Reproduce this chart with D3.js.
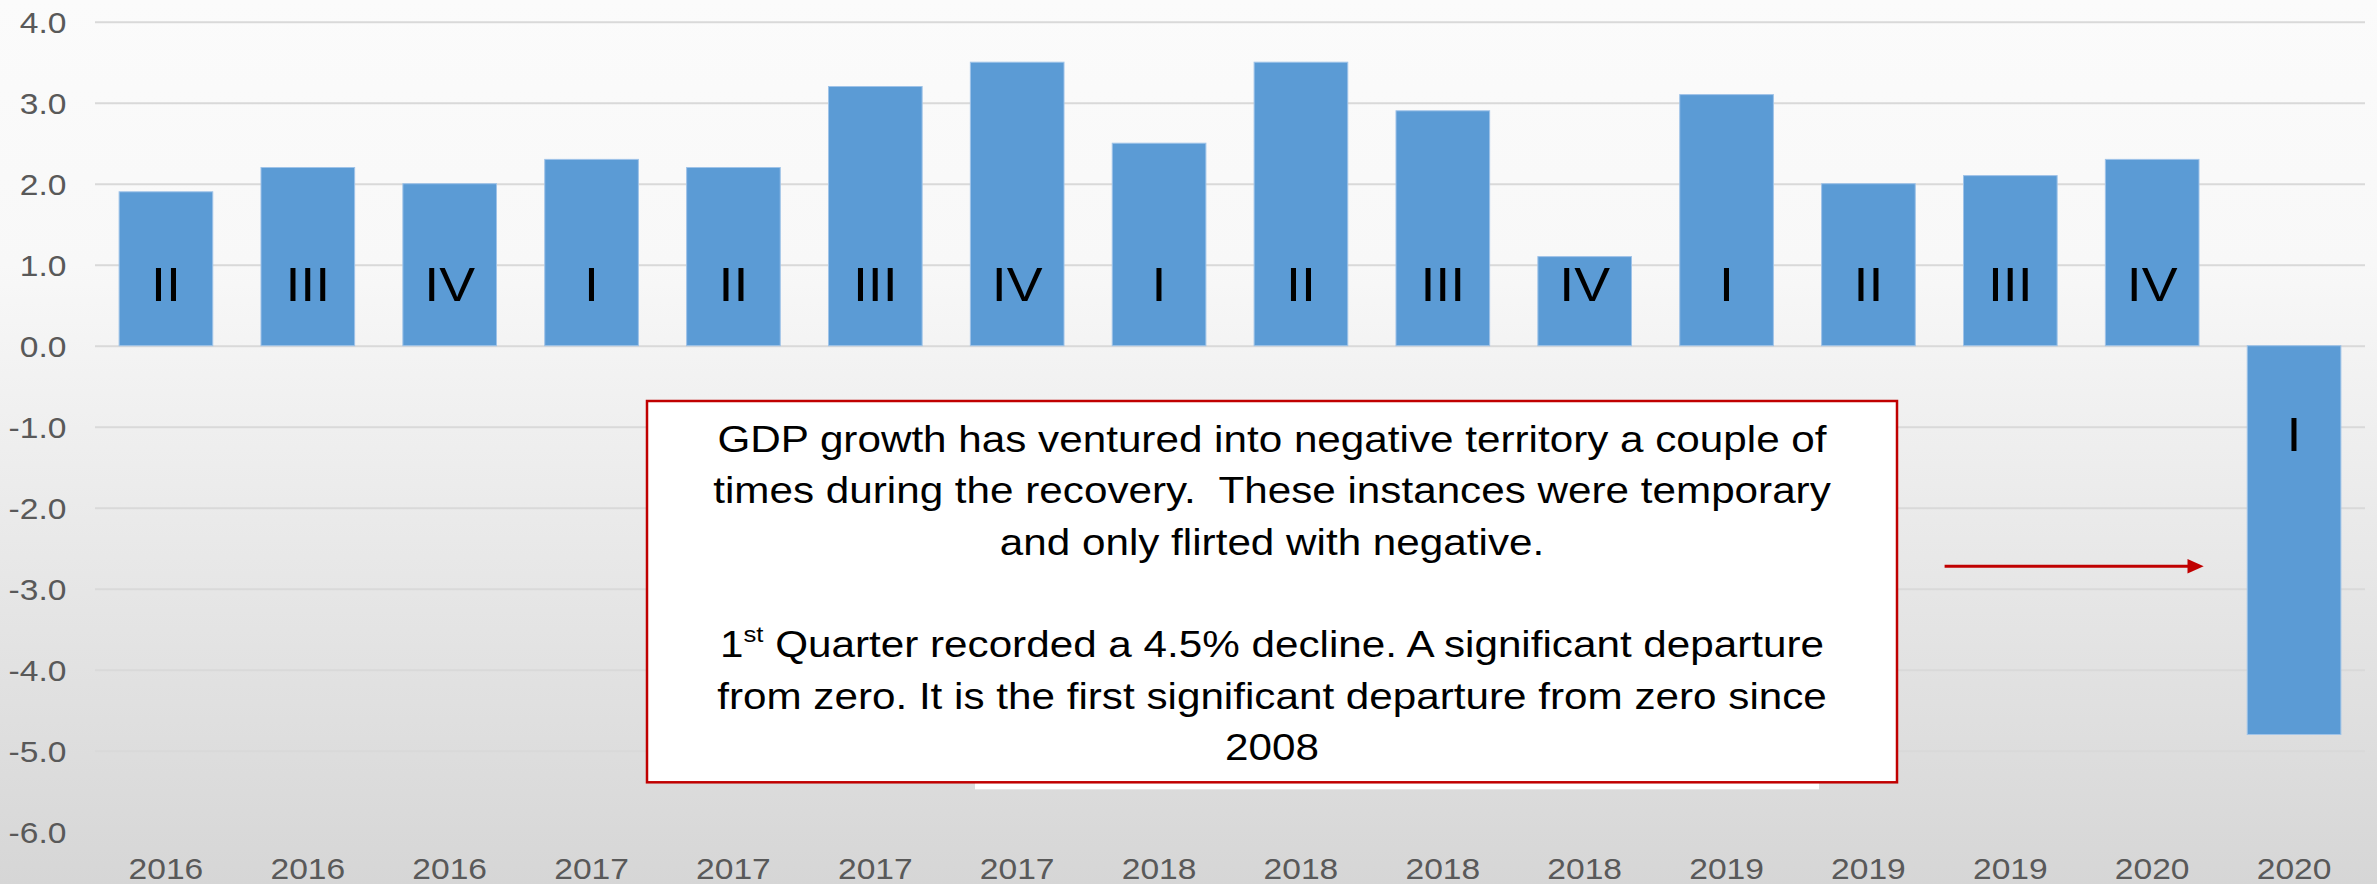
<!DOCTYPE html>
<html>
<head>
<meta charset="utf-8">
<script src="https://cdn.jsdelivr.net/npm/d3@7"></script>
<style>
  html, body { margin: 0; padding: 0; background: #f0f0f0; }
  svg { display: block; }
  text { font-family: "Liberation Sans", Arial, sans-serif; white-space: pre; }
</style>
</head>
<body>
<svg id="chart" width="2377" height="884"></svg>
<script>
// ---- data ----
const years    = ["2016","2016","2016","2017","2017","2017","2017","2018","2018","2018","2018","2019","2019","2019","2020","2020"];
const quarters = ["II","III","IV","I","II","III","IV","I","II","III","IV","I","II","III","IV","I"];
const growth   = [1.9, 2.2, 2.0, 2.3, 2.2, 3.2, 3.5, 2.5, 3.5, 2.9, 1.1, 3.1, 2.0, 2.1, 2.3, -4.8];
const yTicks   = [4, 3, 2, 1, 0, -1, -2, -3, -4, -5, -6];
const gridTicks = [4, 3, 2, 1, 0, -1, -2, -3, -4, -5];
const noteLines1 = [
  "GDP growth has ventured into negative territory a couple of",
  "times during the recovery.  These instances were temporary",
  "and only flirted with negative."
];
const noteLines2 = [
  ["1", "st", " Quarter recorded a 4.5% decline. A significant departure"],
  ["from zero. It is the first significant departure from zero since"],
  ["2008"]
];

// ---- layout ----
const W = 2377, H = 884;
const SX = 1.12; // horizontal stretch of the reference glyphs
const plot = {left: 95, right: 2365, top: 21.7, bottom: 831.7};

const svg = d3.select("#chart");
const defs = svg.append("defs");
const grad = defs.append("linearGradient").attr("id", "bg")
  .attr("x1", 0).attr("y1", 0).attr("x2", 0).attr("y2", 1);
grad.append("stop").attr("offset", "0").attr("stop-color", "#fbfbfb");
grad.append("stop").attr("offset", "0.3").attr("stop-color", "#f8f8f8");
grad.append("stop").attr("offset", "1").attr("stop-color", "#d6d6d6");
svg.append("rect").attr("width", W).attr("height", H).attr("fill", "url(#bg)");

const idx = d3.range(growth.length);
const x = d3.scaleBand().domain(idx).range([plot.left, plot.right])
  .paddingInner(0.34).paddingOuter(0.17);
const y = d3.scaleLinear().domain([-6, 4]).range([plot.bottom, plot.top]);

// gridlines
const grid = svg.append("g").attr("transform", `translate(${plot.left},0)`)
  .call(d3.axisLeft(y).tickValues(gridTicks).tickSize(-(plot.right - plot.left)).tickFormat(""));
grid.select(".domain").remove();
grid.selectAll("line").attr("stroke", "#d9d9d9").attr("stroke-width", 2);

// y axis labels
const yAxis = svg.append("g").attr("transform", `translate(${plot.left},0)`)
  .call(d3.axisLeft(y).tickValues(yTicks).tickSize(0).tickFormat(d => d.toFixed(1)));
yAxis.select(".domain").remove();
yAxis.selectAll("text")
  .attr("x", -28.5 / SX).attr("dy", "0.357em")
  .attr("transform", `scale(${SX},1)`)
  .attr("fill", "#595959").style("font-size", "30px")
  .style("font-family", '"Liberation Sans", Arial, sans-serif');

// x axis labels
const xAxis = svg.append("g").attr("transform", `translate(0,879)`)
  .call(d3.axisBottom(x).tickSize(0).tickFormat(i => years[i]));
xAxis.select(".domain").remove();
xAxis.selectAll("text")
  .attr("y", 0).attr("dy", 0)
  .attr("transform", `scale(${SX},1)`)
  .attr("x", 0)
  .attr("fill", "#595959").style("font-size", "30px")
  .style("font-family", '"Liberation Sans", Arial, sans-serif');

// bars
svg.append("g").selectAll("rect").data(idx).join("rect")
  .attr("x", i => x(i))
  .attr("width", x.bandwidth())
  .attr("y", i => y(Math.max(0, growth[i])))
  .attr("height", i => Math.abs(y(growth[i]) - y(0)))
  .attr("fill", "#5b9bd5")
  .attr("stroke", "#9fc3e8").attr("stroke-width", 1);

// quarter labels
svg.append("g").selectAll("text").data(idx).join("text")
  .attr("transform", i => `translate(${x(i) + x.bandwidth() / 2},${growth[i] >= 0 ? y(0.55) : y(-1.3)}) scale(${SX},1)`)
  .attr("text-anchor", "middle")
  .style("font-size", "48px")
  .attr("fill", "#000")
  .text(i => quarters[i]);

// annotation: white shape behind the note box
svg.append("rect").attr("x", 975).attr("y", 401).attr("width", 844).attr("height", 388.3).attr("fill", "#ffffff");
// note box
svg.append("rect").attr("x", 647).attr("y", 401).attr("width", 1250).attr("height", 381.3)
  .attr("fill", "#ffffff").attr("stroke", "#c00000").attr("stroke-width", 2.5);

const noteCx = 1272, base0 = 452, lh = 51.3;
noteLines1.forEach((t, k) => {
  svg.append("text")
    .attr("transform", `translate(${noteCx},${base0 + k * lh}) scale(${SX},1)`)
    .attr("text-anchor", "middle").style("font-size", "37.7px").attr("fill", "#000")
    .text(t);
});
noteLines2.forEach((parts, k) => {
  const t = svg.append("text")
    .attr("transform", `translate(${noteCx},${base0 + (k + 4) * lh}) scale(${SX},1)`)
    .attr("text-anchor", "middle").style("font-size", "37.7px").attr("fill", "#000");
  if (parts.length === 3) {
    t.append("tspan").text(parts[0]);
    t.append("tspan").attr("dy", -15).style("font-size", "23px").text(parts[1]);
    t.append("tspan").attr("dy", 15).text(parts[2]);
  } else {
    t.text(parts[0]);
  }
});

// arrow
svg.append("line").attr("x1", 1944.6).attr("x2", 2190).attr("y1", 566.3).attr("y2", 566.3)
  .attr("stroke", "#c00000").attr("stroke-width", 3);
svg.append("path").attr("d", "M2187.5,559 L2203.7,566.3 L2187.5,573.6 Z").attr("fill", "#c00000");
</script>
</body>
</html>
